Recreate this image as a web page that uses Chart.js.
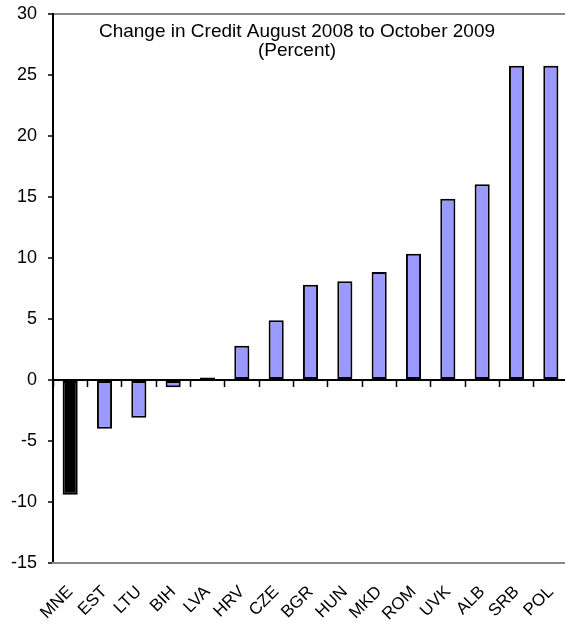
<!DOCTYPE html>
<html>
<head>
<meta charset="utf-8">
<script src="https://cdn.jsdelivr.net/npm/chart.js@4"></script>
<style>
html,body{margin:0;padding:0;background:#fff;overflow:hidden;}
canvas{display:block;}
</style>
</head>
<body>
<canvas id="c" width="568" height="622"></canvas>
<script>
const categories = ['MNE','EST','LTU','BIH','LVA','HRV','CZE','BGR','HUN','MKD','ROM','UVK','ALB','SRB','POL'];
const creditChange = [-9.4,-4.0,-3.1,-0.6,0.2,2.8,4.9,7.8,8.1,8.85,10.35,14.85,16.05,25.75,25.75];
const highlight = ['MNE'];
const titleLines = ['Change in Credit August 2008 to October 2009','(Percent)'];
const yMin = -15, yMax = 30, yStep = 5;

const FONT = 'Liberation Sans, Arial, sans-serif';

const titlePlugin = {
  id: 'innerTitle',
  afterDraw(chart) {
    const ctx = chart.ctx;
    ctx.save();
    ctx.fillStyle = '#000';
    ctx.font = '19px ' + FONT;
    ctx.textAlign = 'center';
    ctx.textBaseline = 'alphabetic';
    const cx = 297;
    const top = chart.chartArea.top;
    titleLines.forEach((t, i) => ctx.fillText(t, cx, top + 23 + i * 19));
    ctx.restore();
  }
};

new Chart(document.getElementById('c'), {
  type: 'bar',
  data: {
    labels: categories,
    datasets: [{
      data: creditChange,
      backgroundColor: categories.map(c => highlight.includes(c) ? '#000000' : '#9999FF'),
      borderColor: '#000',
      borderWidth: 2,
      borderSkipped: false,
      barPercentage: 0.44,
      categoryPercentage: 1.0,
      xAxisID: 'x',
      yAxisID: 'y'
    }]
  },
  options: {
    responsive: false,
    animation: false,
    layout: { padding: { top: 14, left: 0, right: 0, bottom: 0 } },
    plugins: { legend: { display: false }, tooltip: { enabled: false }, title: { display: false } },
    scales: {
      y: {
        min: yMin, max: yMax,
        ticks: { stepSize: yStep, color: '#000', font: { family: FONT, size: 18 }, padding: 11 },
        border: { color: '#000', width: 2 },
        grid: {
          drawOnChartArea: true,
          color: c => (c.tick && c.tick.value === yMax) ? '#888' : 'rgba(0,0,0,0)',
          lineWidth: 2,
          tickColor: '#000',
          tickLength: 5,
          tickWidth: 1.5
        },
        afterFit: s => { s.width = 53; s.paddingTop = 0; s.paddingBottom = 0; }
      },
      x: {
        type: 'category',
        position: { y: 0 },
        offset: true,
        ticks: { display: false },
        border: { color: '#000', width: 2 },
        grid: { offset: true, drawOnChartArea: false, drawTicks: true, tickLength: 6, tickColor: '#000', tickWidth: 1.5, color: '#000' }
      },
      x2: {
        type: 'category',
        labels: categories,
        position: 'bottom',
        offset: true,
        ticks: { color: '#000', font: { family: FONT, size: 17 }, maxRotation: 45, minRotation: 45, padding: 11, autoSkip: false },
        border: { color: '#888', width: 2 },
        grid: { display: false },
        afterFit: s => { s.height = 59; s.paddingLeft = 0; s.paddingRight = 0; }
      }
    }
  },
  plugins: [titlePlugin]
});
</script>
</body>
</html>
